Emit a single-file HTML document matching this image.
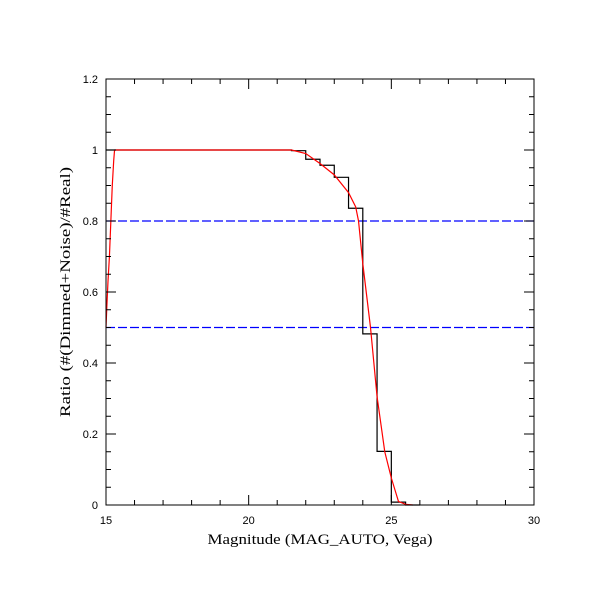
<!DOCTYPE html>
<html><head><meta charset="utf-8"><style>body{margin:0;background:#fff}svg{display:block}</style></head>
<body>
<svg id="chart" width="611" height="611" xmlns="http://www.w3.org/2000/svg" font-family="Liberation Sans, sans-serif">
<rect width="611" height="611" fill="#fff"/>
<g id="g"></g>
</svg>
<script>
const histEdges = [15.0, 15.5, 16, 16.5, 17, 17.5, 18, 18.5, 19, 19.5, 20, 20.5, 21, 21.5, 22, 22.5, 23, 23.5, 24, 24.5, 25, 25.5, 26];
const histValues = [1.0, 1.0, 1.0, 1.0, 1.0, 1.0, 1.0, 1.0, 1.0, 1.0, 1.0, 1.0, 1.0, 0.998, 0.974, 0.957, 0.923, 0.836, 0.482, 0.151, 0.008, 0.0];
const curveX = [15.0, 15.03, 15.07, 15.12, 15.17, 15.22, 15.27, 15.3, 21.5, 22.0, 22.5, 23.0, 23.5, 23.75, 23.85, 24.0, 24.27, 24.5, 24.77, 25.0, 25.25, 25.5, 25.75];
const curveY = [0.5, 0.56, 0.63, 0.7, 0.8, 0.9, 0.97, 1.0, 1.0, 0.99, 0.962, 0.93, 0.88, 0.84, 0.80, 0.68, 0.5, 0.305, 0.15, 0.076, 0.01, 0.002, 0.0];
const refLines = [0.8, 0.5];
const xTicks = [15, 20, 25, 30];
const yTicks = [0, 0.2, 0.4, 0.6, 0.8, 1, 1.2];
const yTickLabels = ["0", "0.2", "0.4", "0.6", "0.8", "1", "1.2"];

const X0 = 106, X1 = 534, Y0 = 505, Y1 = 79;
const sx = v => X0 + (v - 15) / 15 * (X1 - X0);
const sy = v => Y0 - v / 1.2 * (Y0 - Y1);
const NS = "http://www.w3.org/2000/svg";
const g = document.getElementById('g');
function mk(tag, attrs, parent) {
  const e = document.createElementNS(NS, tag);
  for (const k in attrs) e.setAttribute(k, attrs[k]);
  (parent || g).appendChild(e);
  return e;
}

// reference lines
refLines.forEach((v, i) => {
  const l = mk('line', {x1: X0, x2: X1, y1: sy(v), y2: sy(v), stroke: '#0000ff', 'stroke-width': 1.3, 'stroke-dasharray': '9,3'});
  
  
});

// histogram
let d = '';
for (let i = 0; i < histValues.length; i++) {
  const xa = sx(histEdges[i]), xb = sx(histEdges[i + 1]), y = sy(histValues[i]);
  d += (i === 0 ? 'M' : 'L') + xa + ',' + y + ' L' + xb + ',' + y + ' ';
}
const hist = mk('path', {d: d, fill: 'none', stroke: '#000', 'stroke-width': 1.2});



// red curve
const pts = curveX.map((x, i) => sx(x) + ',' + sy(curveY[i])).join(' ');
const cur = mk('polyline', {points: pts, fill: 'none', stroke: '#ff0000', 'stroke-width': 1.2});



// frame
const fr = mk('rect', {x: X0, y: Y1, width: X1 - X0, height: Y0 - Y1, fill: 'none', stroke: '#000', 'stroke-width': 1});



// ticks
let td = '';
for (let m = 15; m <= 30; m += 1) {
  const L = (m % 5 === 0) ? 10 : 5, x = sx(m);
  td += `M${x},${Y0} v${-L} M${x},${Y1} v${L} `;
}
for (let k = 0; k <= 24; k++) {
  const v = k * 0.05, L = (k % 4 === 0) ? 10 : 5, y = sy(v);
  td += `M${X0},${y} h${L} M${X1},${y} h${-L} `;
}
const ticks = mk('path', {d: td, stroke: '#000', 'stroke-width': 1, fill: 'none'});



xTicks.forEach(v => {
  const t = mk('text', {x: sx(v), y: 524, 'font-size': 11, 'text-anchor': 'middle'});
  t.textContent = String(v);
  
  
});
yTicks.forEach((v, i) => {
  const t = mk('text', {x: 98, y: sy(v) + 4, 'font-size': 11, 'text-anchor': 'end'});
  t.textContent = yTickLabels[i];
  
  
});

const xt = mk('text', {x: 320, y: 544, 'font-size': 15, 'text-anchor': 'middle', 'font-family': 'Liberation Serif, serif', textLength: 225, lengthAdjust: 'spacingAndGlyphs'});
xt.textContent = 'Magnitude (MAG_AUTO, Vega)';


const yt = mk('text', {x: 0, y: 0, 'font-size': 15, 'text-anchor': 'middle', 'font-family': 'Liberation Serif, serif', transform: 'translate(70,292) rotate(-90)', textLength: 250, lengthAdjust: 'spacingAndGlyphs'});
yt.textContent = 'Ratio (#(Dimmed+Noise)/#Real)';


</script>
</body></html>
